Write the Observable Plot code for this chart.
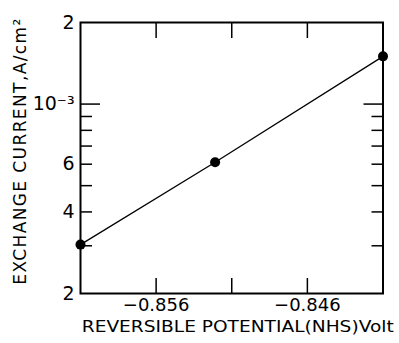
<!DOCTYPE html>
<html><head><meta charset="utf-8">
<script src="https://cdn.jsdelivr.net/npm/d3@7"></script>
<script src="https://cdn.jsdelivr.net/npm/@observablehq/plot@0.6"></script>
<style>body{margin:0;background:#fff}</style>
</head><body><div id="chart"></div>
<script>
const potential = [-0.861, -0.8521, -0.841];
const current = [3.03e-4, 6.1e-4, 1.5e-3];
const xTicks = [-0.856, -0.851, -0.846];
const xTickLabels = ["−0.856", "", "−0.846"];
const yLabelTicks = [2e-4, 4e-4, 6e-4, 1e-3, 2e-3];
const yLabelText = ["2", "4", "6", "10⁻³", "2"];
const yMinorTicks = [3e-4, 4e-4, 5e-4, 6e-4, 7e-4, 8e-4, 9e-4];
const yMajorTicks = [1e-3];
const xLabel = "REVERSIBLE POTENTIAL(NHS)Volt";
const yLabel = "EXCHANGE CURRENT,A/cm²";

const data = potential.map((p, i) => ({p, c: current[i]}));

const svg = Plot.plot({
  width: 399, height: 343,
  marginLeft: 80, marginRight: 16.5, marginTop: 22, marginBottom: 50,
  style: {fontFamily: "DejaVu Sans", fontSize: "16px", background: "white", color: "black"},
  x: {domain: [-0.861, -0.841], axis: null},
  y: {type: "log", domain: [2e-4, 2e-3], axis: null},
  marks: [
    Plot.frame({strokeWidth: 2}),
    Plot.axisY(yMinorTicks, {anchor: "left", label: null, tickSize: -12, tickFormat: () => "", strokeWidth: 1.5}),
    Plot.axisY(yMinorTicks, {anchor: "right", label: null, tickSize: -12, tickFormat: () => "", strokeWidth: 1.5}),
    Plot.axisY(yMajorTicks, {anchor: "left", label: null, tickSize: -20, tickFormat: () => "", strokeWidth: 1.5}),
    Plot.axisY(yMajorTicks, {anchor: "right", label: null, tickSize: -20, tickFormat: () => "", strokeWidth: 1.5}),
    Plot.axisY(yLabelTicks, {anchor: "left", label: null, tickSize: 0, tickPadding: 6, fontSize: 19,
      tickFormat: d => yLabelText[yLabelTicks.indexOf(d)]}),
    Plot.axisX(xTicks, {anchor: "bottom", label: null, tickSize: -15, tickFormat: () => "", strokeWidth: 1.5}),
    Plot.axisX(xTicks, {anchor: "top", label: null, tickSize: -15, tickFormat: () => "", strokeWidth: 1.5}),
    Plot.axisX(xTicks, {anchor: "bottom", label: null, tickSize: 0, tickPadding: 5, fontSize: 18,
      tickFormat: d => xTickLabels[xTicks.indexOf(d)]}),
    Plot.line(data, {x: "p", y: "c", strokeWidth: 1.3}),
    Plot.dot(data, {x: "p", y: "c", r: 5, fill: "black", stroke: "none"}),
    Plot.text([xLabel], {frameAnchor: "bottom", dy: 38, dx: 6, fontSize: 15, className: "xlab"}),
    Plot.text([yLabel], {frameAnchor: "left", textAnchor: "middle", rotate: -90, dx: -60, dy: -7, fontSize: 17, className: "ylab"})
  ]
});
document.getElementById("chart").appendChild(svg);
d3.select(svg).selectAll(".xlab text").attr("textLength", 312).attr("lengthAdjust", "spacingAndGlyphs");
d3.select(svg).selectAll(".ylab text").style("letter-spacing", "1.4px");
</script>
</body></html>
